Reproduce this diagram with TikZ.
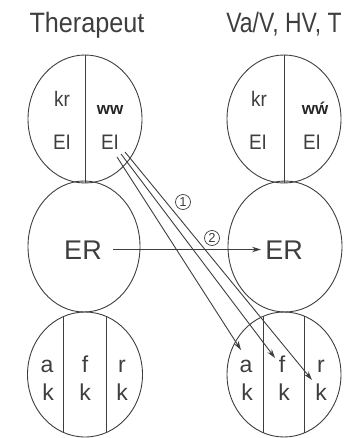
\documentclass[tikz,border=0pt]{standalone}
\usepackage{fontspec}
\setmainfont{Liberation Sans}
\newfontfamily\condf[FakeStretch=0.9]{Liberation Sans}
\newfontfamily\narrf[FakeStretch=0.82]{Liberation Sans}
\usetikzlibrary{shapes.geometric,arrows.meta}
\definecolor{ink}{HTML}{3E3E3E}
\begin{document}
\begin{tikzpicture}[x=1pt,y=-1pt,
  circ/.style={ellipse, draw=ink, line width=0.9pt, inner sep=0pt, outer sep=0pt},
  divl/.style={draw=ink, line width=0.9pt},
  ttl/.style={text=ink, anchor=base, inner sep=0pt, font=\condf\fontsize{28}{28}\selectfont},
  lbl/.style={text=ink, anchor=base, inner sep=0pt, font=\condf\fontsize{21}{21}\selectfont},
  blbl/.style={text=ink, anchor=base, inner sep=0pt, font=\fontsize{23}{23}\selectfont},
  erl/.style={text=ink, anchor=base, inner sep=0pt, font=\fontsize{27}{27}\selectfont},
  wwl/.style={text=black!85, anchor=base, inner sep=0pt, font=\bfseries\fontsize{17}{17}\selectfont},
  arr/.style={draw=ink, line width=0.9pt, -{Stealth[length=9pt,width=5.5pt]}},
  num/.style={circle, draw=ink, line width=0.7pt, inner sep=0pt, minimum size=15pt, text=ink, font=\fontsize{13}{13}\selectfont}]
\useasboundingbox (0,0) rectangle (356,438);

% titles
\node[ttl] (t1) at (87,33) {Therapeut};
\node[ttl, font=\narrf\fontsize{28}{28}\selectfont] (t2) at (284,33) {Va/V, HV, T};

% ellipses
\node[circ, minimum width=114pt, minimum height=128pt] (tl) at (85,119) {};
\node[circ, minimum width=112pt, minimum height=131pt] (ml) at (84,246.5) {};
\node[circ, minimum width=115pt, minimum height=125pt] (bl) at (85,374.5) {};
\node[circ, minimum width=114pt, minimum height=128pt] (tr) at (284,119) {};
\node[circ, minimum width=114pt, minimum height=131pt] (mr) at (285,246.5) {};
\node[circ, minimum width=114pt, minimum height=125pt] (br) at (284,374.5) {};

% dividers
\draw[divl] (tl.north) -- (tl.south);
\draw[divl] (tr.north) -- (tr.south);
\coordinate (bla1) at (63,316.8); \coordinate (bla2) at (63,432.2);
\coordinate (blb1) at (106,316.3); \coordinate (blb2) at (106,432.7);
\coordinate (bra1) at (263,316.4); \coordinate (bra2) at (263,432.6);
\coordinate (brb1) at (304,316); \coordinate (brb2) at (304,433);
\draw[divl] (bla1) -- (bla2);
\draw[divl] (blb1) -- (blb2);
\draw[divl] (bra1) -- (bra2);
\draw[divl] (brb1) -- (brb2);

% top labels
\node[lbl] (kr1) at (62,107) {kr};
\node[lbl] (el1) at (62,150) {EI};
\node[wwl] (ww1) at (110,115) {ww};
\node[lbl] (el2) at (110,150) {EI};
\node[lbl] (kr2) at (259,107) {kr};
\node[lbl] (el3) at (258,150) {EI};
\node[wwl] (ww2) at (315,115) {w\'{w}};
\node[lbl] (el4) at (312,150) {EI};

% ER
\node[erl] (erL) at (83,259) {ER};
\node[erl] (erR) at (284,259) {ER};

% bottom labels
\node[blbl] (a1) at (47,372) {a};
\node[blbl] (f1) at (85,372) {f};
\node[blbl] (r1) at (122,372) {r};
\node[blbl] (k1) at (48,400) {k};
\node[blbl] (k2) at (85,400) {k};
\node[blbl] (k3) at (122,400) {k};
\node[blbl] (a2) at (246,372) {a};
\node[blbl] (f2) at (282,372) {f};
\node[blbl] (r2) at (321,372) {r};
\node[blbl] (k4) at (247,400) {k};
\node[blbl] (k5) at (284,400) {k};
\node[blbl] (k6) at (321,400) {k};

% numbers
\node[num] (n1) at (183,202) {1};
\node[num] (n2) at (212,238) {2};

% arrows
\coordinate (hs) at (113,249.5);
\coordinate (he) at (261,249.5);
\draw[arr] (hs) -- (he);
\coordinate (d1s) at (117,157); \coordinate (d1e) at (241,350);
\coordinate (d2s) at (121,154); \coordinate (d2e) at (275,358);
\coordinate (d3s) at (125,152); \coordinate (d3e) at (312,380);
\draw[arr] (d1s) -- (d1e);
\draw[arr] (d2s) -- (d2e);
\draw[arr] (d3s) -- (d3e);
\end{tikzpicture}
\end{document}
